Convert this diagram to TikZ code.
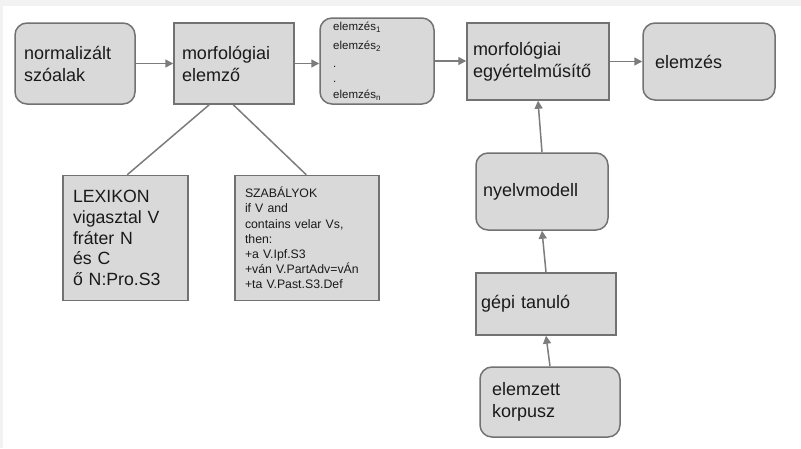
\documentclass[tikz,border=0pt]{standalone}
\usepackage{fontspec}
\setmainfont{Liberation Sans}
\usetikzlibrary{arrows.meta}
\definecolor{boxfill}{HTML}{D9D9D9}
\definecolor{boxline}{HTML}{727272}
\definecolor{arrline}{HTML}{7C7C7C}
\definecolor{txt}{HTML}{1A1A1A}
\definecolor{edge}{HTML}{F2F2F2}
\tikzset{
  x=1pt, y=-1pt,
  box/.style={draw=boxline, fill=boxfill, line width=1.5pt, align=left,
    text=txt, inner ysep=0pt, font=\fontsize{18}{22}\selectfont},
  rbox/.style={box, rounded corners=12pt},
  small/.style={text=txt, inner sep=0pt, anchor=west, font=\fontsize{11.5}{13}\selectfont},
  arr/.style={draw=arrline, line width=1.5pt, -{Triangle[length=8pt,width=8pt]}},
  conn/.style={draw=arrline, line width=1.5pt}
}
\begin{document}
\begin{tikzpicture}
\useasboundingbox (0,0) rectangle (801,448);
\fill[edge] (0,0) rectangle (801,448);
\fill[white] (3,6) rectangle (801,448);

\node[rbox, minimum width=120pt, minimum height=81pt, text width=102pt, inner xsep=9pt] (norm) at (75,63.5) {normalizált\\szóalak};
\node[box, minimum width=120pt, minimum height=81pt, text width=104pt, inner xsep=8pt] (elemzo) at (234,63.5) {morfológiai\\elemző};
\node[rbox, minimum width=114pt, minimum height=86pt] (list) at (377,61) {};
\node[small] (l1) at (333,27) {elemzés\textsubscript{1}};
\node[small] (l2) at (333,46) {elemzés\textsubscript{2}};
\node[small] (l3) at (333,67) {.};
\node[small] (l4) at (333,82) {.};
\node[small] (l5) at (333,95) {elemzés\textsubscript{n}};
\node[box, minimum width=142pt, minimum height=77pt, text width=130pt, inner xsep=6pt] (egy) at (538,61.5) {morfológiai\\egyértelműsítő};
\node[rbox, minimum width=132pt, minimum height=77pt, text width=108pt, inner xsep=12pt] (fin) at (709,61.5) {elemzés};

\node[box, minimum width=125pt, minimum height=125pt, text width=105pt, inner xsep=10pt, font=\fontsize{17.7}{20.7}\selectfont] (lex) at (125.5,238) {LEXIKON\\vigasztal V\\fráter N\\és C\\ő N:Pro.S3};
\node[box, minimum width=144pt, minimum height=125pt, text width=124pt, inner xsep=10pt, font=\fontsize{12.3}{15.2}\selectfont] (szab) at (307,238) {SZABÁLYOK\\if V and\\contains velar Vs,\\then:\\+a V.Ipf.S3\\+ván V.PartAdv=vÁn\\+ta V.Past.S3.Def};

\node[rbox, minimum width=132pt, minimum height=77pt, text width=118pt, inner xsep=7pt] (nyelv) at (542,191.5) {nyelvmodell};
\node[box, minimum width=140pt, minimum height=62pt, text width=130pt, inner xsep=5pt] (gepi) at (546,304) {gépi tanuló};
\node[rbox, minimum width=140pt, minimum height=70pt, text width=116pt, inner xsep=12pt] (korp) at (550,402) {elemzett\\korpusz};

\draw[arr] (norm.east) -- (elemzo.west);
\draw[arr] (elemzo.east) -- (elemzo.east -| list.west);
\draw[arr] (list.east) -- (list.east -| egy.west);
\draw[arr] (egy.east) -- (egy.east -| fin.west);
\draw[conn] ([xshift=36pt]elemzo.south west) -- ([xshift=65pt]lex.north west);
\draw[conn] ([xshift=60pt]elemzo.south west) -- ([xshift=72pt]szab.north west);
\draw[arr] (korp.north) -- (gepi.south);
\draw[arr] (gepi.north) -- (nyelv.south);
\draw[arr] (nyelv.north) -- (egy.south);
\end{tikzpicture}
\end{document}
